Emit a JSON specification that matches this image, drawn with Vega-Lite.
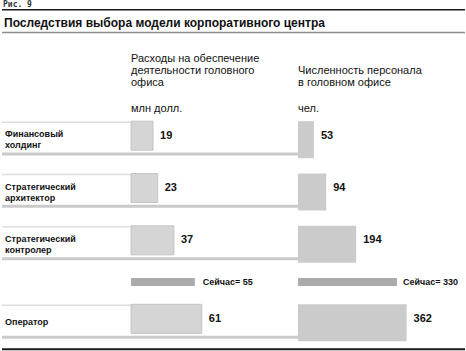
{
  "$schema": "https://vega.github.io/schema/vega-lite/v6.json",
  "width": 466,
  "height": 351,
  "autosize": {"type": "fit", "contains": "padding"},
  "padding": 0,
  "background": "white",
  "config": {"view": {"stroke": null}, "font": "Liberation Sans", "text": {"color": "#111"}},
  "data": {
    "values": [
      {"row": "Финансовый холдинг", "kind": "model", "cost": 19, "staff": 53},
      {"row": "Стратегический архитектор", "kind": "model", "cost": 23, "staff": 94},
      {"row": "Стратегический контролер", "kind": "model", "cost": 37, "staff": 194},
      {"row": "Сейчас", "kind": "now", "cost": 55, "staff": 330},
      {"row": "Оператор", "kind": "model", "cost": 61, "staff": 362}
    ]
  },
  "encoding": {
    "y": {
      "field": "row",
      "type": "nominal",
      "axis": null,
      "scale": {
        "domain": ["s00","s01","s02","s03","s04","s05","s06","s07","s08","s09","s10","s11","s12","s13","s14",
                   "Финансовый холдинг","s16","s17","s18","s19","s20",
                   "Стратегический архитектор","s22","s23","s24","s25","s26",
                   "Стратегический контролер","s28","s29","s30","s31",
                   "Сейчас","s33","s34","s35",
                   "Оператор","s37","s38","s39"],
        "paddingInner": 0,
        "paddingOuter": 0.126,
        "align": 0.245
      }
    }
  },
  "layer": [
    {
      "data": {"values": [{}]},
      "mark": {"type": "rule", "color": "#1a1a1a", "strokeWidth": 1.6},
      "encoding": {"y": {"datum": "s01", "type": "nominal", "bandPosition": 0.05}}
    },
    {
      "data": {"values": [{}]},
      "mark": {"type": "rule", "color": "#8c8c8c", "strokeWidth": 1.5},
      "encoding": {"y": {"datum": "s03", "type": "nominal", "bandPosition": 0.67}}
    },
    {
      "data": {"values": [{}]},
      "mark": {"type": "rule", "color": "#1a1a1a", "strokeWidth": 2},
      "encoding": {"y": {"datum": "s39", "type": "nominal", "bandPosition": 1.0}}
    },
    {
      "resolve": {"scale": {"x": "shared"}},
      "layer": [
        {
          "data": {"values": [{}]},
          "mark": {"type": "text", "text": "Рис. 9", "font": "DejaVu Sans Mono", "fontSize": 8, "fontWeight": "bold", "align": "left", "baseline": "middle", "dx": 1, "color": "#333"},
          "encoding": {
            "x": {"datum": 0, "type": "quantitative", "scale": {"domain": [0, 1]}, "axis": null},
            "y": {"datum": "s00", "type": "nominal", "bandPosition": 0.48}
          }
        },
        {
          "data": {"values": [{}]},
          "mark": {"type": "text", "text": "Последствия выбора модели корпоративного центра", "fontSize": 12, "fontWeight": "bold", "align": "left", "baseline": "middle", "dx": 2},
          "encoding": {
            "x": {"datum": 0, "type": "quantitative", "scale": {"domain": [0, 1]}, "axis": null},
            "y": {"datum": "s02", "type": "nominal", "bandPosition": 0.54}
          }
        },
        {
          "transform": [{"filter": "datum.kind == 'model' && indexof(datum.row, ' ') > 0"}],
          "mark": {"type": "text", "align": "left", "baseline": "middle", "dx": 3, "dy": -1.5, "fontSize": 9, "fontWeight": "bold", "lineBreak": " ", "lineHeight": 11},
          "encoding": {
            "x": {"datum": 0, "type": "quantitative", "scale": {"domain": [0, 1]}, "axis": null},
            "text": {"field": "row", "type": "nominal"}
          }
        },
        {
          "transform": [{"filter": "datum.kind == 'model' && indexof(datum.row, ' ') < 0"}],
          "mark": {"type": "text", "align": "left", "baseline": "middle", "dx": 3, "dy": 3, "fontSize": 9, "fontWeight": "bold"},
          "encoding": {
            "x": {"datum": 0, "type": "quantitative", "scale": {"domain": [0, 1]}, "axis": null},
            "text": {"field": "row", "type": "nominal"}
          }
        }
      ]
    },
    {
      "resolve": {"scale": {"x": "shared"}},
      "layer": [
        {
          "transform": [{"filter": "datum.kind == 'model'"}],
          "mark": {"type": "rule", "color": "#dedede", "strokeWidth": 1.5},
          "encoding": {
            "x": {"datum": 0, "type": "quantitative", "scale": {"domain": [0, 100], "range": [129, 245], "nice": false}, "axis": null},
            "x2": {"value": 0},
            "y": {"field": "row", "type": "nominal", "bandPosition": -1.05}
          }
        },
        {
          "transform": [{"filter": "datum.kind == 'model'"}],
          "mark": {"type": "bar", "size": 29, "color": "#d5d5d5", "stroke": "#c4c4c4", "strokeWidth": 1},
          "encoding": {
            "x": {"field": "cost", "type": "quantitative", "scale": {"domain": [0, 100], "range": [129, 245], "nice": false}, "axis": null}
          }
        },
        {
          "transform": [{"filter": "datum.kind == 'model'"}],
          "mark": {"type": "text", "align": "left", "baseline": "middle", "dx": 7, "fontSize": 11, "fontWeight": "bold"},
          "encoding": {
            "x": {"field": "cost", "type": "quantitative", "scale": {"domain": [0, 100], "range": [129, 245], "nice": false}, "axis": null},
            "text": {"field": "cost", "type": "quantitative"}
          }
        },
        {
          "transform": [{"filter": "datum.kind == 'now'"}],
          "mark": {"type": "bar", "size": 8, "color": "#ababab", "yOffset": -2},
          "encoding": {
            "x": {"field": "cost", "type": "quantitative", "scale": {"domain": [0, 100], "range": [129, 245], "nice": false}, "axis": null}
          }
        },
        {
          "transform": [{"filter": "datum.kind == 'now'"}, {"calculate": "'Сейчас= ' + datum.cost", "as": "label"}],
          "mark": {"type": "text", "align": "left", "baseline": "middle", "dx": 8, "dy": -2, "fontSize": 9, "fontWeight": "bold"},
          "encoding": {
            "x": {"field": "cost", "type": "quantitative", "scale": {"domain": [0, 100], "range": [129, 245], "nice": false}, "axis": null},
            "text": {"field": "label", "type": "nominal"}
          }
        },
        {
          "data": {"values": [{}]},
          "mark": {"type": "text", "text": ["Расходы на обеспечение", "деятельности головного", "офиса"], "align": "left", "baseline": "top", "fontSize": 11, "lineHeight": 12},
          "encoding": {
            "x": {"datum": 0, "type": "quantitative", "scale": {"domain": [0, 100], "range": [129, 245], "nice": false}, "axis": null},
            "y": {"datum": "s06", "type": "nominal", "bandPosition": 0}
          }
        },
        {
          "data": {"values": [{}]},
          "mark": {"type": "text", "text": "млн долл.", "align": "left", "baseline": "middle", "fontSize": 11},
          "encoding": {
            "x": {"datum": 0, "type": "quantitative", "scale": {"domain": [0, 100], "range": [129, 245], "nice": false}, "axis": null},
            "y": {"datum": "s12", "type": "nominal", "bandPosition": 0.44}
          }
        }
      ]
    },
    {
      "resolve": {"scale": {"x": "shared"}},
      "layer": [
        {
          "transform": [{"filter": "datum.kind == 'model'"}],
          "mark": {"type": "rule", "color": "#cacaca", "strokeWidth": 3},
          "encoding": {
            "x": {"datum": 0, "type": "quantitative", "scale": {"domain": [0, 500], "range": [296, 446], "nice": false}, "axis": null},
            "x2": {"value": 0},
            "y": {"field": "row", "type": "nominal", "bandPosition": 2.6}
          }
        },
        {
          "transform": [{"filter": "datum.kind == 'model'"}],
          "mark": {"type": "bar", "size": 37, "color": "#cbcbcb", "yOffset": 4},
          "encoding": {
            "x": {"field": "staff", "type": "quantitative", "scale": {"domain": [0, 500], "range": [296, 446], "nice": false}, "axis": null}
          }
        },
        {
          "transform": [{"filter": "datum.kind == 'model'"}],
          "mark": {"type": "text", "align": "left", "baseline": "middle", "dx": 7, "fontSize": 11, "fontWeight": "bold"},
          "encoding": {
            "x": {"field": "staff", "type": "quantitative", "scale": {"domain": [0, 500], "range": [296, 446], "nice": false}, "axis": null},
            "text": {"field": "staff", "type": "quantitative"}
          }
        },
        {
          "transform": [{"filter": "datum.kind == 'now'"}],
          "mark": {"type": "bar", "size": 8, "color": "#ababab", "yOffset": -2},
          "encoding": {
            "x": {"field": "staff", "type": "quantitative", "scale": {"domain": [0, 500], "range": [296, 446], "nice": false}, "axis": null}
          }
        },
        {
          "transform": [{"filter": "datum.kind == 'now'"}, {"calculate": "'Сейчас= ' + datum.staff", "as": "label"}],
          "mark": {"type": "text", "align": "left", "baseline": "middle", "dx": 6, "dy": -2, "fontSize": 9, "fontWeight": "bold"},
          "encoding": {
            "x": {"field": "staff", "type": "quantitative", "scale": {"domain": [0, 500], "range": [296, 446], "nice": false}, "axis": null},
            "text": {"field": "label", "type": "nominal"}
          }
        },
        {
          "data": {"values": [{}]},
          "mark": {"type": "text", "text": ["Численность персонала", "в головном офисе"], "align": "left", "baseline": "top", "fontSize": 11, "lineHeight": 12},
          "encoding": {
            "x": {"datum": 0, "type": "quantitative", "scale": {"domain": [0, 500], "range": [296, 446], "nice": false}, "axis": null},
            "y": {"datum": "s07", "type": "nominal", "bandPosition": 0.37}
          }
        },
        {
          "data": {"values": [{}]},
          "mark": {"type": "text", "text": "чел.", "align": "left", "baseline": "middle", "fontSize": 11},
          "encoding": {
            "x": {"datum": 0, "type": "quantitative", "scale": {"domain": [0, 500], "range": [296, 446], "nice": false}, "axis": null},
            "y": {"datum": "s12", "type": "nominal", "bandPosition": 0.44}
          }
        }
      ]
    }
  ],
  "resolve": {"scale": {"x": "independent"}}
}
